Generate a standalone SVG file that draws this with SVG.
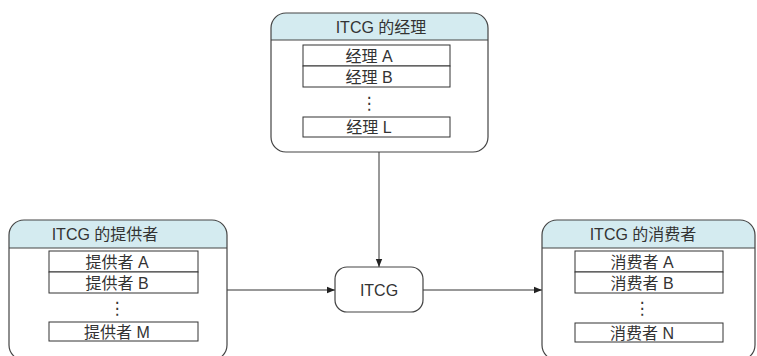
<svg xmlns="http://www.w3.org/2000/svg" width="757" height="356" viewBox="0 0 757 356">
<defs>
<style>
.frame{fill:#fff;stroke:#444;stroke-width:1.2}
.hdr{fill:#d4ebf0;stroke:none}
.sep{stroke:#444;stroke-width:1}
.row{fill:#fff;stroke:#333;stroke-width:1}
.t{font-family:"Liberation Sans","Noto Sans CJK SC",sans-serif;font-size:16px;fill:#333;text-anchor:middle;dominant-baseline:central}
.dots{font-family:"DejaVu Sans",sans-serif;font-size:17px;fill:#333;text-anchor:middle}
.conn{stroke:#333;stroke-width:1;fill:none;marker-end:url(#ah)}
</style>
<marker id="ah" viewBox="0 0 10 10" refX="10" refY="5" markerWidth="8" markerHeight="8" orient="auto" markerUnits="userSpaceOnUse">
<path d="M0,1 L10,5 L0,9 z" fill="#222"/>
</marker>
<clipPath id="cTop"><rect x="271" y="13" width="217" height="139" rx="15"/></clipPath>
<clipPath id="cLeft"><rect x="9" y="220" width="218" height="140" rx="15"/></clipPath>
<clipPath id="cRight"><rect x="542" y="220" width="213" height="140" rx="15"/></clipPath>
</defs>

<g id="connectors">
<line class="conn" x1="379" y1="152" x2="379" y2="267"/>
<line class="conn" x1="227" y1="290" x2="335" y2="290"/>
<line class="conn" x1="423" y1="290" x2="542" y2="290"/>
</g>

<g id="managers">
<rect x="271" y="13" width="217" height="139" rx="15" fill="#fff"/>
<rect class="hdr" x="271" y="13" width="217" height="27" clip-path="url(#cTop)"/>
<line class="sep" x1="271" y1="40" x2="488" y2="40"/>
<rect x="271" y="13" width="217" height="139" rx="15" class="frame" style="fill:none"/>
<text class="t" x="381" y="27">ITCG 的经理</text>
<rect class="row" x="303" y="45" width="147" height="21"/>
<text class="t" x="369" y="56">经理 A</text>
<rect class="row" x="303" y="66" width="147" height="21"/>
<text class="t" x="369" y="77">经理 B</text>
<text class="dots" x="369" y="109">⋮</text>
<rect class="row" x="303" y="117" width="147" height="20"/>
<text class="t" x="369" y="127">经理 L</text>
</g>

<g id="providers">
<rect x="9" y="220" width="218" height="140" rx="15" fill="#fff"/>
<rect class="hdr" x="9" y="220" width="218" height="28" clip-path="url(#cLeft)"/>
<line class="sep" x1="9" y1="248" x2="227" y2="248"/>
<rect x="9" y="220" width="218" height="140" rx="15" class="frame" style="fill:none"/>
<text class="t" x="105" y="234">ITCG 的提供者</text>
<rect class="row" x="49" y="251" width="149" height="21"/>
<text class="t" x="117" y="262">提供者 A</text>
<rect class="row" x="49" y="272" width="149" height="21"/>
<text class="t" x="117" y="283">提供者 B</text>
<text class="dots" x="117" y="314">⋮</text>
<rect class="row" x="49" y="322" width="149" height="19"/>
<text class="t" x="117" y="332">提供者 M</text>
</g>

<g id="itcg">
<rect x="335" y="267" width="88" height="45" rx="12" class="frame"/>
<text class="t" x="379" y="290">ITCG</text>
</g>

<g id="consumers">
<rect x="542" y="220" width="213" height="140" rx="15" fill="#fff"/>
<rect class="hdr" x="542" y="220" width="213" height="28" clip-path="url(#cRight)"/>
<line class="sep" x1="542" y1="248" x2="755" y2="248"/>
<rect x="542" y="220" width="213" height="140" rx="15" class="frame" style="fill:none"/>
<text class="t" x="643" y="234">ITCG 的消费者</text>
<rect class="row" x="575" y="251" width="148" height="21"/>
<text class="t" x="642" y="262">消费者 A</text>
<rect class="row" x="575" y="272" width="148" height="21"/>
<text class="t" x="642" y="283">消费者 B</text>
<text class="dots" x="642" y="314">⋮</text>
<rect class="row" x="575" y="323" width="148" height="19"/>
<text class="t" x="642" y="333">消费者 N</text>
</g>
</svg>
